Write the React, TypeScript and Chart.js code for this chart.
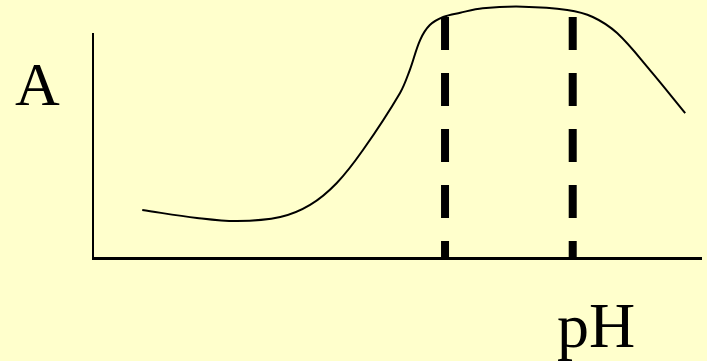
import React, { useEffect, useRef } from "react";
import { Chart, registerables } from "chart.js";

Chart.register(...registerables);

// Absorbance curve vs pH (abstract units)
const curveX = [0.81, 1.71, 2.37, 3.08, 3.57, 4.01, 4.44, 5.05, 5.21, 5.38, 5.54, 5.76, 6.04, 6.41, 7.07, 7.8, 8.22, 8.62, 9.16, 9.74];
const curveY = [0.214, 0.179, 0.165, 0.183, 0.237, 0.335, 0.482, 0.737, 0.839, 0.973, 1.04, 1.076, 1.095, 1.115, 1.122, 1.107, 1.076, 1.004, 0.839, 0.647];

// Dashed vertical markers
const markerX = [5.79, 7.89];
const markerTop = 1.076;

const yAxisLabel = "A";
const xAxisLabel = "pH";

export default function App() {
  const ref = useRef<HTMLCanvasElement>(null);

  useEffect(() => {
    if (!ref.current) return;
    const labelsPlugin = {
      id: "axisLabels",
      afterDraw(chart: any) {
        const ctx = chart.ctx;
        ctx.save();
        ctx.fillStyle = "#000";
        ctx.textBaseline = "alphabetic";
        ctx.textAlign = "left";
        ctx.font = "62px 'Liberation Serif', 'Times New Roman', serif";
        ctx.fillText(yAxisLabel, 15, 105);
        ctx.font = "64px 'Liberation Serif', 'Times New Roman', serif";
        ctx.fillText(xAxisLabel, 557, 347);
        ctx.restore();
      },
    };
    const bgPlugin = {
      id: "bg",
      beforeDraw(chart: any) {
        const ctx = chart.ctx;
        ctx.save();
        ctx.fillStyle = "#FFFFCC";
        ctx.fillRect(0, 0, chart.width, chart.height);
        ctx.restore();
      },
    };
    const chart = new Chart(ref.current, {
      type: "line",
      data: {
        datasets: [
          {
            data: curveX.map((x, i) => ({ x, y: curveY[i] })),
            borderColor: "#000",
            borderWidth: 2,
            pointRadius: 0,
            tension: 0.35,
            clip: false as any,
          },
          ...markerX.map((x) => ({
            data: [
              { x, y: markerTop },
              { x, y: 0 },
            ],
            borderColor: "#000",
            borderWidth: 8,
            borderDash: [33, 23],
            borderCapStyle: "butt" as const,
            pointRadius: 0,
            clip: false as any,
          })),
        ],
      },
      options: {
        animation: false,
        responsive: false,
        layout: { padding: { left: 93, top: 34, right: 6, bottom: 103 } },
        plugins: { legend: { display: false }, tooltip: { enabled: false } },
        scales: {
          x: {
            type: "linear",
            min: 0,
            max: 10,
            grid: { display: false, drawTicks: false },
            ticks: { display: false },
            border: { display: true, color: "#000", width: 3 },
          },
          y: {
            type: "linear",
            min: 0,
            max: 1,
            grid: { display: false, drawTicks: false },
            ticks: { display: false },
            border: { display: true, color: "#000", width: 2 },
          },
        },
      },
      plugins: [bgPlugin, labelsPlugin],
    });
    return () => chart.destroy();
  }, []);

  return (
    <div style={{ position: "fixed", left: 0, top: 0, width: 707, height: 361, background: "#FFFFCC" }}>
      <canvas ref={ref} width={707} height={361} style={{ display: "block" }} />
    </div>
  );
}
